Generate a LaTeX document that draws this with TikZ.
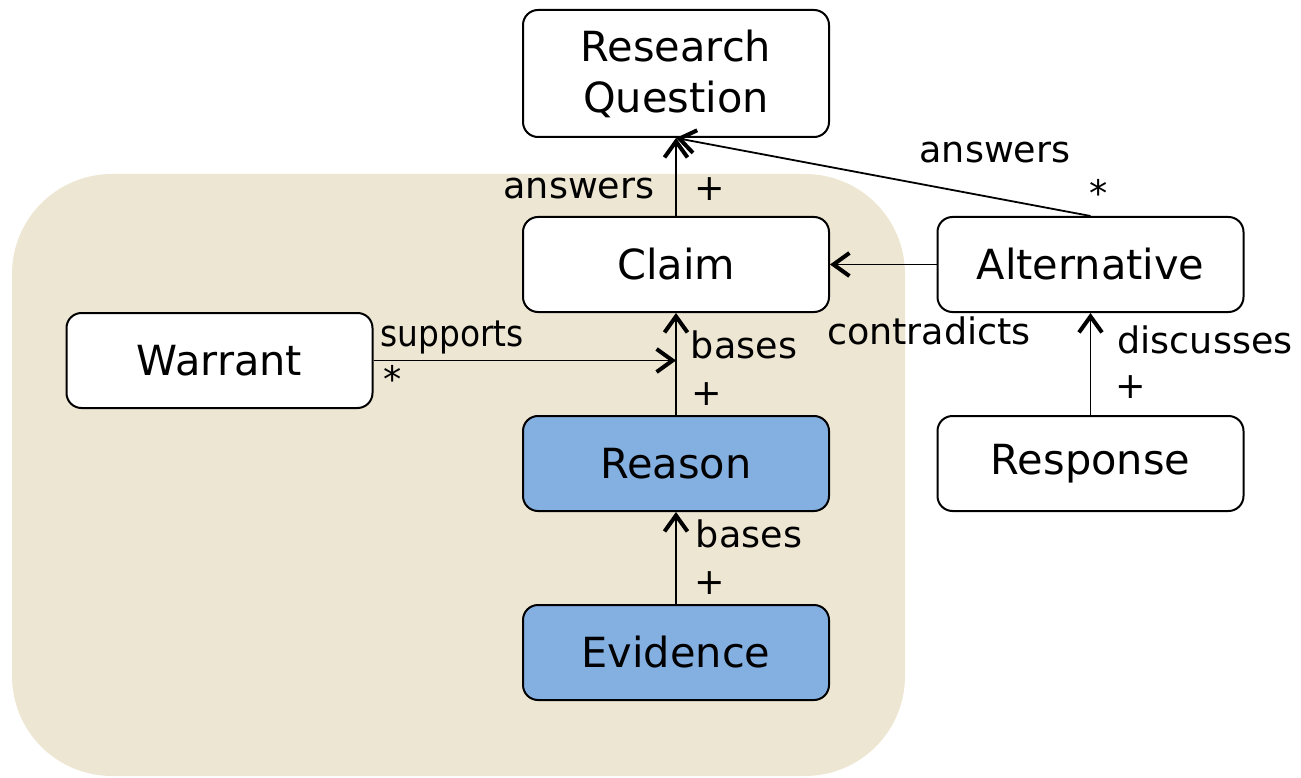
\documentclass[tikz,border=0pt]{standalone}
\usepackage{fontspec}
\setmainfont{DejaVu Sans}
\usetikzlibrary{arrows.meta}
\definecolor{cPane}{HTML}{EDE6D2}
\definecolor{cFocus}{HTML}{84AFE1}
\tikzset{
  box/.style   = {rectangle, rounded corners=15pt, draw=black, fill=#1, line width=2pt,
                  minimum width=306pt, minimum height=95pt, align=center, inner sep=0pt,
                  font=\fontsize{41.5}{51}\selectfont},
  box/.default = white,
  focus/.style = {box=cFocus},
  rel/.style   = {-{Straight Barb[length=16pt,width=23pt,line width=4pt]}, line width=1.8pt},
  lab/.style   = {anchor=base, inner sep=0pt, font=\fontsize{36.5}{44}\selectfont},
}
\begin{document}
\begin{tikzpicture}[x=1pt, y=-1pt]
  \useasboundingbox (0,0) rectangle (1301,778);
  \fill[cPane, rounded corners=100pt] (12,174) rectangle (905,776);

  \node[box, minimum height=127pt] (rq) at (676,73.5) {Research\\Question};
  \node[box]   (claim)   at (676,264.5)    {Claim};
  \node[box]   (alt)     at (1090.5,264.5) {Alternative};
  \node[box]   (warrant) at (219.5,360.5)  {Warrant};
  \node[focus] (reason)  at (676,463.5)    {Reason};
  \node[box]   (resp)    at (1090.5,463.5) {Response};
  \node[focus] (evid)    at (676,652.5)    {Evidence};

  \coordinate (join) at (claim.south |- warrant.east);

  \draw[rel] (claim) -- (rq);
  \draw[rel] (alt.north) -- (rq.south);
  \draw[rel] (alt) -- (claim);
  \draw[rel] (resp) -- (alt);
  \draw[rel] (reason) -- (claim);
  \draw[rel] (evid) -- (reason);
  \draw[rel] (warrant) -- (join);

  \node[lab] (l1) at (579,199)  {answers};
  \node[lab] (m1) at (710,201)  {+};
  \node[lab] (l2) at (995,163)  {answers};
  \node[lab] (m2) at (1099,207) {*};
  \node[lab] (l3) at (929,344)  {contradicts};
  \node[lab] (l4) at (1205,353) {discusses};
  \node[lab] (m4) at (1131,398) {+};
  \node[lab] (l5) at (452,346)  {\scalebox{0.9}[1]{supports}};
  \node[lab] (m5) at (393,392)  {*};
  \node[lab] (l6) at (744,358)  {bases};
  \node[lab] (m6) at (707,405)  {+};
  \node[lab] (l7) at (749,547)  {bases};
  \node[lab] (m7) at (710,594)  {+};
\end{tikzpicture}
\end{document}
